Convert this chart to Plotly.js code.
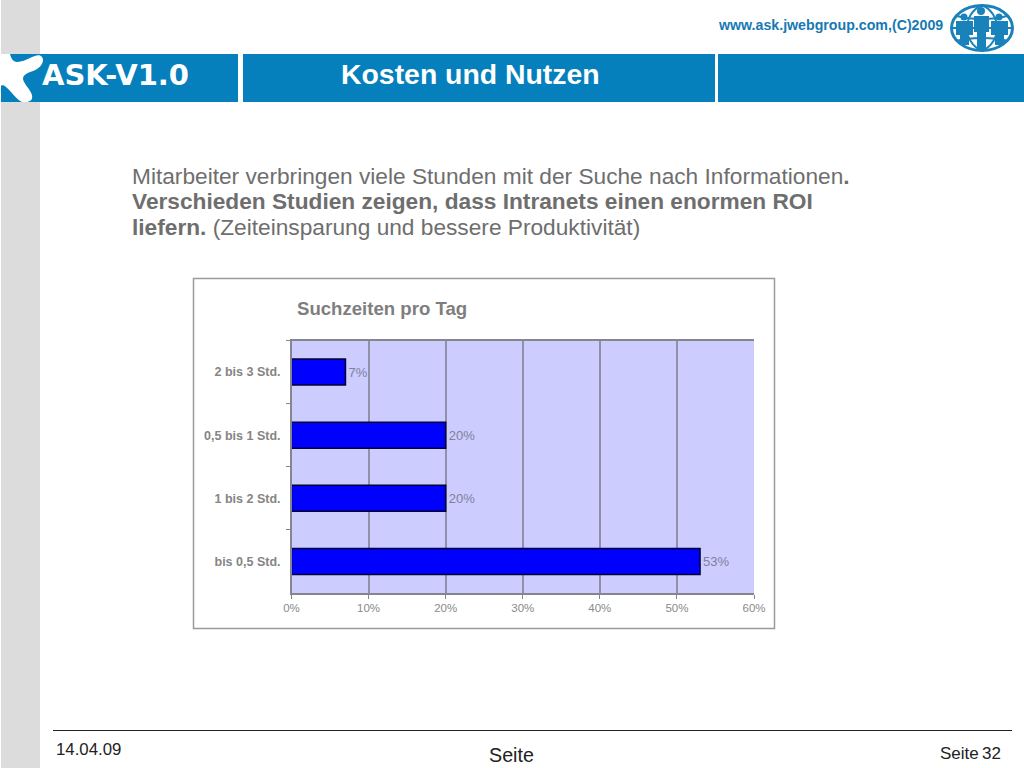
<!DOCTYPE html>
<html>
<head>
<meta charset="utf-8">
<script src="https://cdn.plot.ly/plotly-3.0.1.min.js"></script>
<style>html,body{margin:0;padding:0;background:#fff;overflow:hidden}#c{width:1024px;height:768px}</style>
</head>
<body>
<div id="c"></div>
<script>
const categories = ["bis 0,5 Std.", "1 bis 2 Std.", "0,5 bis 1 Std.", "2 bis 3 Std."];
const shares = [53, 20, 20, 7];
const xTicks = [0, 10, 20, 30, 40, 50, 60];
const xTickLabels = ["0%", "10%", "20%", "30%", "40%", "50%", "60%"];
const chartTitle = "Suchzeiten pro Tag";

const W = 1024, H = 768;
const px = v => v / W, py = v => 1 - v / H;
const BLUE = "#0580BD";
const LOGO = "#1A82BB";

function rect(x0, y0, x1, y1, fill, line, lw, layer) {
  return {type: "rect", xref: "paper", yref: "paper", x0: px(x0), x1: px(x1), y0: py(y0), y1: py(y1),
    fillcolor: fill, line: {color: line || fill, width: lw === undefined ? 0 : lw}, layer: layer || "below"};
}
function pxPath(d) { return d.replace(/(-?[\d.]+),(-?[\d.]+)/g, (m, a, b) => px(+a) + "," + py(+b)); }
function path(d, fill, line, lw) {
  return {type: "path", xref: "paper", yref: "paper", path: pxPath(d), fillcolor: fill || "rgba(0,0,0,0)",
    line: {color: line || "rgba(0,0,0,0)", width: lw || 0}, layer: "below"};
}
function disc(cx, cy, r, fill) {
  return {type: "circle", xref: "paper", yref: "paper", x0: px(cx - r), x1: px(cx + r), y0: py(cy + r), y1: py(cy - r),
    fillcolor: fill, line: {width: 0}, layer: "below"};
}
function text(x, y, t, size, color, anchor, family) {
  return {xref: "paper", yref: "paper", x: px(x), y: py(y), text: t, showarrow: false, xanchor: anchor || "left", yanchor: "middle",
    align: anchor || "left", font: {size: size, color: color, family: family || "Liberation Sans, Arial, sans-serif"}, borderpad: 0};
}

const shapes = [
  rect(1, 0, 40, 768, "#DCDCDC"),
  rect(1, 54, 1024, 102, BLUE),
  rect(238, 54, 243, 102, "#FFFFFF"),
  rect(715, 54, 718, 102, "#FFFFFF"),
  // white logo blob in the header
  path("M 0,54 L 10,54 C 11,58 13,62 17,62 C 23,62 29,58 35,56 C 39,54 43,56 43,60 C 43,65 38,69 33,71 C 27,73 23,75 23,79 C 24,84 30,89 32,95 C 33,100 30,102 26,102 L 22,102 C 17,100 12,92 6,87 C 4,85 2,85 0,86 Z", "#FFFFFF"),
  // chart frame and plot background
  rect(193.5, 278.5, 774.5, 628.5, "#FFFFFF", "#9A9A9A", 1.5),
  rect(291.5, 340.5, 754, 593, "#CCCCFF"),
  // footer rule
  {type: "line", xref: "paper", yref: "paper", x0: px(53), x1: px(1012), y0: py(730.5), y1: py(730.5), line: {color: "#222222", width: 1}, layer: "below"},
  // globe logo
  {type: "circle", xref: "paper", yref: "paper", x0: px(951.5), x1: px(1012.5), y0: py(50.5), y1: py(5.5), fillcolor: "#FFFFFF", line: {color: LOGO, width: 3}, layer: "below"},
  path("M 982,5 C 962,14 962,42 982,51", null, LOGO, 2),
  path("M 982,5 C 1002,14 1002,42 982,51", null, LOGO, 2),
  path("M 957,16 C 970,20 994,20 1007,16", null, LOGO, 2),
  path("M 956,41 C 970,37 994,37 1008,41", null, LOGO, 2),
  path("M 951,28 L 1013,28", null, LOGO, 2),
  // figures on the globe
  disc(964, 17, 3.5, LOGO), disc(981, 11, 4, LOGO), disc(999, 17, 3.5, LOGO),
  path("M 956,21 L 973,21 L 973,35 L 969,35 L 969,45 L 960,45 L 960,35 L 956,35 Z", LOGO),
  path("M 974,16 L 989,16 L 989,32 L 986,32 L 986,49 L 977,49 L 977,32 L 974,32 Z", LOGO),
  path("M 991,21 L 1008,21 L 1008,35 L 1004,35 L 1004,45 L 995,45 L 995,35 L 991,35 Z", LOGO)
];

const gray = "#6E6E6E";
const annotations = [
  text(41, 74.5, "<b>ASK-V1.0</b>", 29, "#FFFFFF", "left", "DejaVu Sans, Verdana, sans-serif"),
  text(470.5, 73.5, "<b>Kosten und Nutzen</b>", 28.4, "#FFFFFF", "center"),
  text(944, 25, "<b>www.ask.jwebgroup.com,(C)2009</b>", 14.2, "#1679B3", "right"),
  text(130.5, 176, "Mitarbeiter verbringen viele Stunden mit der Suche nach Informationen<b>.</b>", 22.7, gray),
  text(130.5, 201, "<b>Verschieden Studien zeigen, dass Intranets einen enormen ROI</b>", 22.7, gray),
  text(130.5, 227, "<b>liefern.</b> (Zeiteinsparung und bessere Produktivität)", 22.7, gray),
  text(296, 308, "<b>" + chartTitle + "</b>", 18.6, "#7E7E7E"),
  text(54.5, 749, "14.04.09", 16.8, "#222222"),
  text(511, 755, "Seite", 19.7, "#222222", "center"),
  text(980, 753, "Seite", 17, "#222222", "right"),
  text(1002, 753, "32", 17, "#222222", "right")
];

const trace = {
  type: "bar", orientation: "h", y: categories, x: shares,
  marker: {color: "#0000FF", line: {color: "#000033", width: 1.5}},
  text: shares.map(v => v + "%"), textposition: "outside", cliponaxis: false,
  textfont: {size: 13, color: "#80809A", family: "Liberation Sans, Arial, sans-serif"},
  hoverinfo: "skip", width: 0.41
};

const layout = {
  width: W, height: H, margin: {l: 0, r: 0, t: 0, b: 0, pad: 0}, autosize: false,
  paper_bgcolor: "#FFFFFF", plot_bgcolor: "#CCCCFF", showlegend: false, shapes, annotations,
  xaxis: {domain: [px(291.5), px(754)], range: [0, 60], tickmode: "array", tickvals: xTicks, ticktext: xTickLabels,
    showgrid: true, gridcolor: "#9090A8", gridwidth: 2, zeroline: false, showline: true, linecolor: "#85858F", linewidth: 1.5, mirror: true,
    ticks: "outside", ticklen: 4, tickcolor: "#85858F", tickwidth: 1,
    tickfont: {size: 11.5, color: "#8A8A8A", family: "Liberation Sans, Arial, sans-serif"}},
  yaxis: {domain: [py(593), py(340.5)], type: "category", categoryorder: "array", categoryarray: categories,
    tickson: "boundaries", showgrid: false, zeroline: false, showline: true, linecolor: "#85858F", linewidth: 1.5,
    ticks: "outside", ticklen: 4, tickcolor: "#85858F", tickwidth: 1, ticklabelstandoff: 7,
    tickfont: {size: 12.5, color: "#858585", family: "Liberation Sans, Arial, sans-serif", weight: 700}}
};
Plotly.newPlot("c", [trace], layout, {displayModeBar: false, staticPlot: true});
</script>
</body>
</html>
